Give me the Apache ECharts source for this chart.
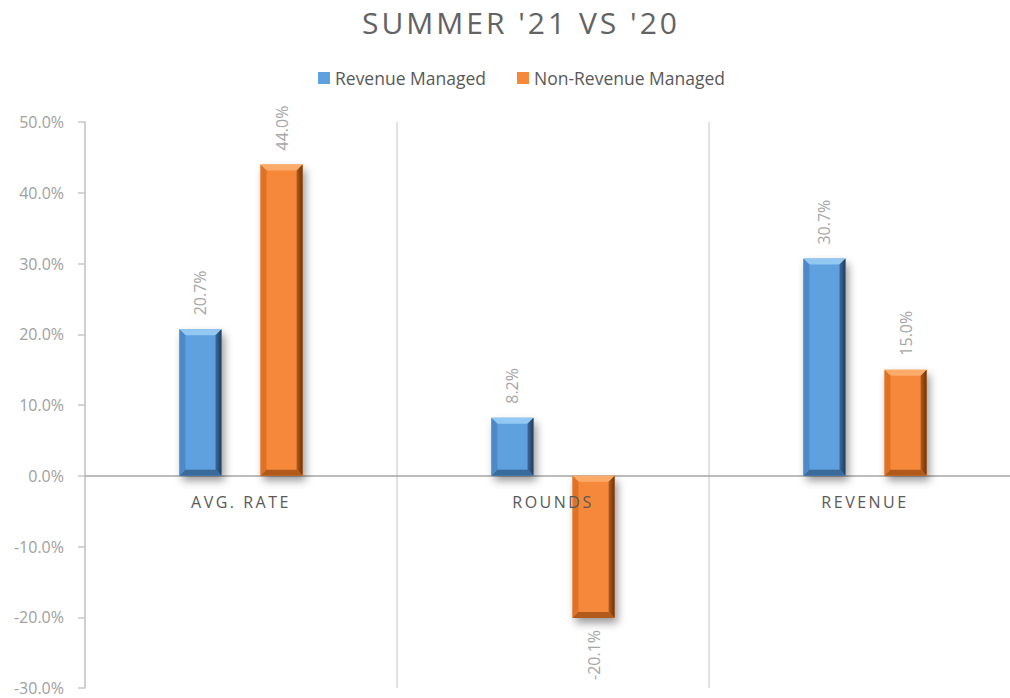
<!DOCTYPE html>
<html>
<head>
<meta charset="utf-8">
<script src="https://cdn.jsdelivr.net/npm/echarts@6/dist/echarts.min.js"></script>
<style>
  html, body { margin: 0; padding: 0; background: #ffffff; }
  #chart { width: 1010px; height: 698px; }
</style>
</head>
<body>
<div id="chart"></div>
<script>
const titleText = "SUMMER '21 VS '20";
const categories = ['AVG. RATE', 'ROUNDS', 'REVENUE'];
const seriesNames = ['Revenue Managed', 'Non-Revenue Managed'];
const revenueManaged = [20.7, 8.2, 30.7];
const nonRevenueManaged = [44.0, -20.1, 15.0];
const yMin = -30, yMax = 50, yStep = 10;

const palettes = [
  { face: '#5fa0de', top: '#93c8f3', left: '#4d89c6', right: '#1f3d5c', bottom: '#3a6a9a' },
  { face: '#f6883a', top: '#fbab6a', left: '#df7227', right: '#6e340d', bottom: '#b25a1b' }
];

const FONT = '"Open Sans", "Noto Sans", sans-serif';

function renderBar(params, api) {
  const idx = api.value(0);
  const val = api.value(1);
  const base = api.coord([idx, 0]);
  const topPt = api.coord([idx, val]);
  const band = api.size([1, 0])[0];
  const w = band * 0.135;
  const off = (params.seriesIndex === 0 ? -0.13 : 0.13) * band;
  const cx = base[0] + off;
  const x0 = cx - w / 2, x1 = cx + w / 2;
  const yA = Math.min(base[1], topPt[1]);
  const yB = Math.max(base[1], topPt[1]);
  const b = Math.min(6, (yB - yA) / 2);
  const p = palettes[params.seriesIndex];
  const pos = val >= 0;
  const labelText = val.toFixed(1) + '%';
  return {
    type: 'group',
    children: [
      { type: 'rect', shape: { x: x0, y: yA, width: w, height: yB - yA },
        style: { fill: p.face, shadowBlur: 8, shadowOffsetX: 3, shadowOffsetY: 5, shadowColor: 'rgba(0,0,0,0.4)' } },
      { type: 'polygon', shape: { points: [[x0, yA], [x1, yA], [x1 - b, yA + b], [x0 + b, yA + b]] },
        style: { fill: p.top } },
      { type: 'polygon', shape: { points: [[x0, yA], [x0 + b, yA + b], [x0 + b, yB - b], [x0, yB]] },
        style: { fill: p.left } },
      { type: 'polygon', shape: { points: [[x1, yA], [x1, yB], [x1 - b, yB - b], [x1 - b, yA + b]] },
        style: { fill: new echarts.graphic.LinearGradient(0, 0, 1, 0, [
          { offset: 0, color: p.bottom }, { offset: 1, color: p.right }]) } },
      { type: 'polygon', shape: { points: [[x0, yB], [x1, yB], [x1 - b, yB - b], [x0 + b, yB - b]] },
        style: { fill: p.bottom } },
      { type: 'text', x: cx, y: pos ? yA - 14 : yB + 12, rotation: Math.PI / 2,
        style: { text: labelText, fill: '#a6a6a6', fontSize: 16, fontFamily: FONT,
                 align: pos ? 'left' : 'right', verticalAlign: 'middle' } }
    ]
  };
}

function renderCategoryLabel(params, api) {
  const idx = api.value(0);
  const p = api.coord([idx, 0]);
  return {
    type: 'text', x: p[0], y: p[1] + 18,
    style: { text: categories[idx], fill: '#595959', fontSize: 16, fontFamily: FONT,
             align: 'center', verticalAlign: 'top' }
  };
}

const chart = echarts.init(document.getElementById('chart'), null, { renderer: 'svg' });

const option = {
  animation: false,
  backgroundColor: '#ffffff',
  title: {
    text: titleText,
    left: 357,
    top: 2,
    textStyle: { fontFamily: FONT, fontSize: 30, fontWeight: 'normal', color: '#636363' }
  },
  legend: {
    top: 64,
    left: 313,
    icon: 'rect',
    itemWidth: 12,
    itemHeight: 12,
    itemGap: 31,
    data: seriesNames,
    textStyle: { fontFamily: FONT, fontSize: 17.5, color: '#595959' }
  },
  grid: { left: 85, right: -11, top: 122, bottom: 10, outerBoundsMode: 'none', containLabel: false },
  xAxis: {
    type: 'category',
    data: categories,
    axisLine: { onZero: true, lineStyle: { color: '#a6a6a6', width: 1.5 } },
    axisTick: { show: false },
    axisLabel: { show: false },
    splitLine: { show: true, interval: 0, lineStyle: { color: '#d9d9d9', width: 1.5 } }
  },
  yAxis: {
    type: 'value',
    min: yMin,
    max: yMax,
    interval: yStep,
    axisLine: { show: true, lineStyle: { color: '#c8c8c8', width: 1.5 } },
    axisTick: { show: true, length: 7, lineStyle: { color: '#c8c8c8', width: 1.5 } },
    axisLabel: { color: '#a0a0a0', fontFamily: FONT, fontSize: 16, margin: 21,
                 formatter: v => v.toFixed(1) + '%' },
    splitLine: { show: false }
  },
  series: [
    { name: seriesNames[0], type: 'custom', renderItem: renderBar,
      itemStyle: { color: palettes[0].face },
      encode: { x: 0, y: 1 },
      data: revenueManaged.map((v, i) => [i, v]) },
    { name: seriesNames[1], type: 'custom', renderItem: renderBar,
      itemStyle: { color: palettes[1].face },
      encode: { x: 0, y: 1 },
      data: nonRevenueManaged.map((v, i) => [i, v]) },
    { name: 'categoryLabels', type: 'custom', renderItem: renderCategoryLabel,
      z: 10, silent: true,
      encode: { x: 0, y: 1 },
      data: categories.map((c, i) => [i, 0]) }
  ]
};

chart.setOption(option);

function applySpacing() {
  const svg = document.querySelector('#chart svg');
  if (!svg) return;
  svg.querySelectorAll('text').forEach(t => {
    const s = t.textContent;
    if (s === titleText) t.setAttribute('letter-spacing', '3px');
    else if (categories.indexOf(s) >= 0) t.setAttribute('letter-spacing', '2.5px');
  });
}
chart.on('finished', applySpacing);
applySpacing();
</script>
</body>
</html>
